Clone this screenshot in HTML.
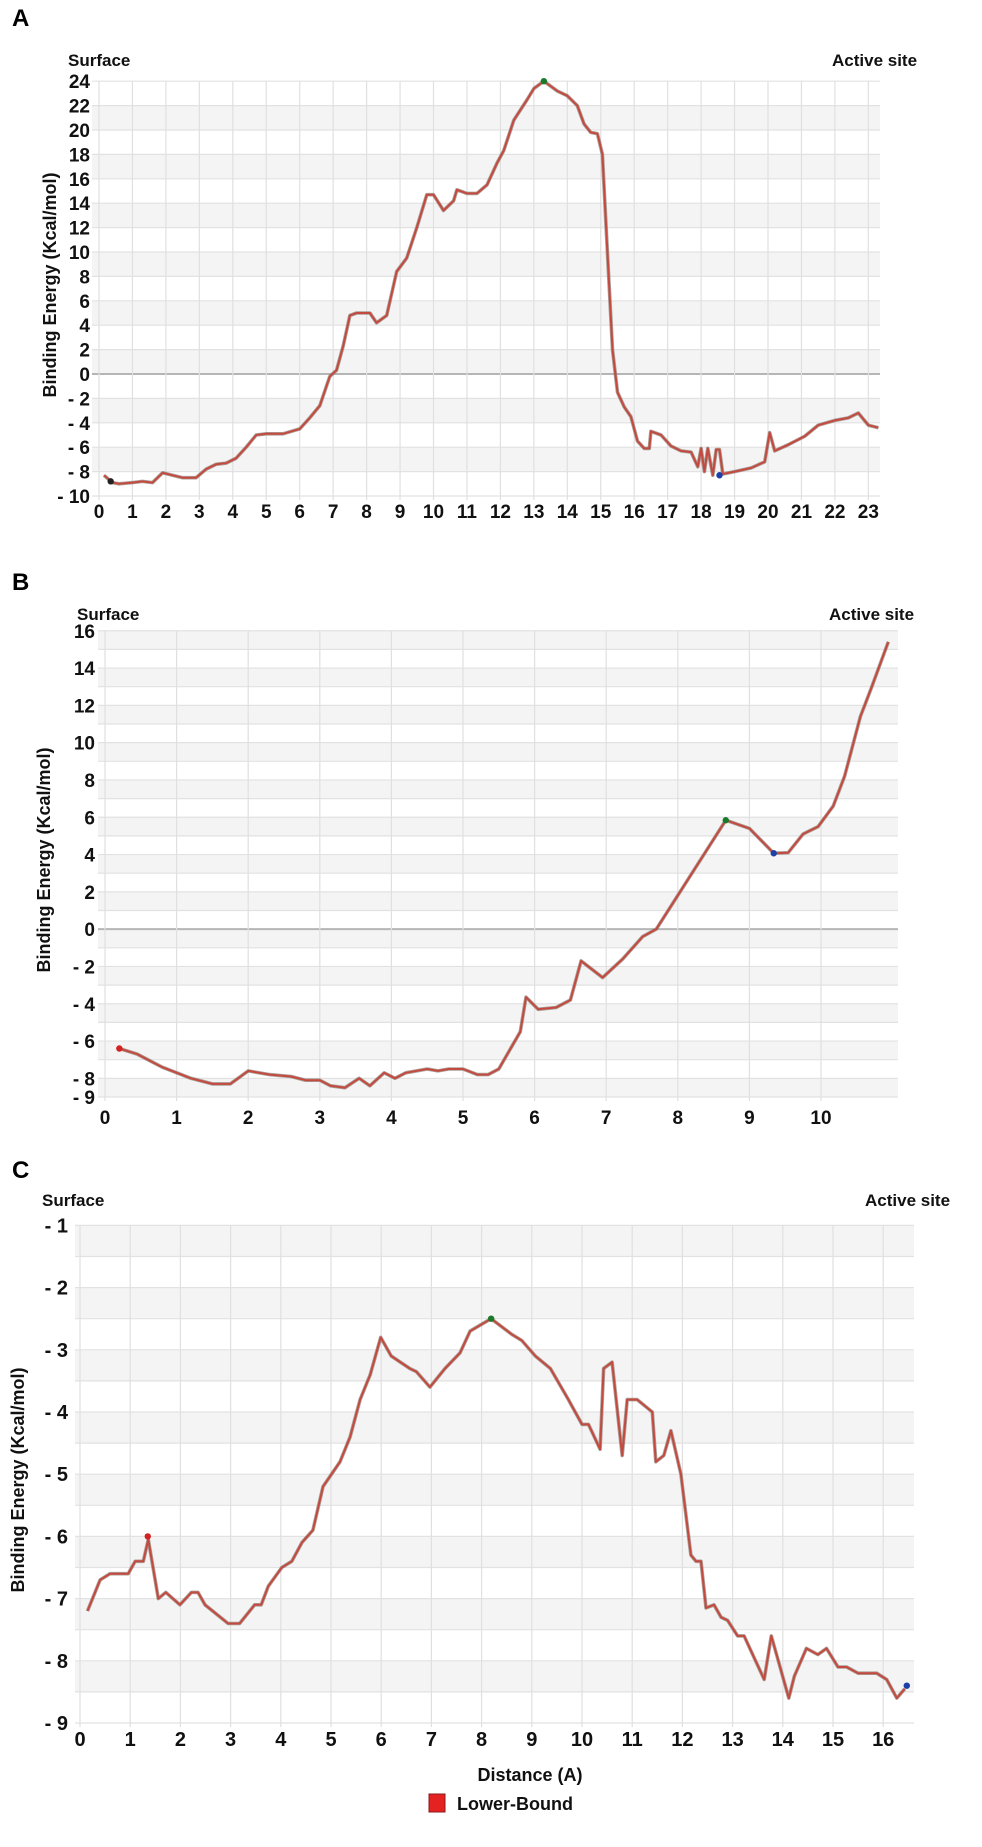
<!DOCTYPE html>
<html><head><meta charset="utf-8">
<style>
html,body{margin:0;padding:0;background:#fff;}
svg{display:block;font-family:"Liberation Sans",Arial,sans-serif;}
</style></head>
<body>
<svg id="fig" width="982" height="1847" viewBox="0 0 982 1847" xmlns="http://www.w3.org/2000/svg">
<rect width="982" height="1847" fill="#fff"/>
</svg>
<script>
// ---- Panel A data ----
const aX = [0.15,0.4,0.6,1,1.3,1.6,1.9,2.2,2.5,2.9,3.2,3.5,3.8,4.1,4.4,4.7,5,5.5,6,6.3,6.6,6.9,7.1,7.3,7.5,7.7,8.1,8.3,8.6,8.9,9.2,9.5,9.8,10,10.3,10.6,10.7,11,11.3,11.6,11.9,12.1,12.4,12.8,13.0,13.3,13.7,14.0,14.3,14.5,14.7,14.9,15.05,15.2,15.35,15.5,15.7,15.9,16.1,16.3,16.45,16.5,16.8,17.1,17.4,17.7,17.9,18.0,18.1,18.2,18.35,18.45,18.55,18.65,19,19.5,19.9,20.05,20.2,20.6,21.1,21.5,22.0,22.4,22.7,23.0,23.3];
const aY = [-8.3,-8.9,-9,-8.9,-8.8,-8.9,-8.1,-8.3,-8.5,-8.5,-7.8,-7.4,-7.3,-6.9,-6,-5,-4.9,-4.9,-4.5,-3.6,-2.6,-0.2,0.3,2.3,4.8,5,5,4.2,4.8,8.4,9.5,12,14.7,14.7,13.4,14.2,15.1,14.8,14.8,15.5,17.3,18.3,20.8,22.5,23.4,24,23.2,22.8,22,20.5,19.8,19.7,18,10,2,-1.5,-2.7,-3.5,-5.5,-6.1,-6.1,-4.7,-5,-5.9,-6.3,-6.4,-7.6,-6.1,-8.0,-6.1,-8.3,-6.2,-6.2,-8.2,-8.0,-7.7,-7.2,-4.8,-6.3,-5.8,-5.1,-4.2,-3.8,-3.6,-3.2,-4.2,-4.4];
const aYTicks = [24,22,20,18,16,14,12,10,8,6,4,2,0,-2,-4,-6,-8,-10];
const aXTicks = [0,1,2,3,4,5,6,7,8,9,10,11,12,13,14,15,16,17,18,19,20,21,22,23];
const aMarkers = [[0.35,-8.8,'#222'],[13.3,24,'#1a7a2a'],[18.55,-8.3,'#1f3fa8']];

// ---- Panel B data ----
const bX = [0.2,0.45,0.8,1.2,1.5,1.75,2.0,2.3,2.6,2.8,3.0,3.15,3.35,3.55,3.7,3.9,4.05,4.2,4.5,4.65,4.8,5.0,5.2,5.35,5.5,5.8,5.88,6.05,6.3,6.5,6.65,6.95,7.23,7.51,7.7,8.67,9.0,9.34,9.54,9.75,9.96,10.17,10.33,10.55,10.7,10.94];
const bY = [-6.4,-6.7,-7.4,-8.0,-8.3,-8.3,-7.6,-7.8,-7.9,-8.1,-8.1,-8.4,-8.5,-8.0,-8.4,-7.7,-8.0,-7.7,-7.5,-7.6,-7.5,-7.5,-7.8,-7.8,-7.5,-5.5,-3.65,-4.3,-4.2,-3.8,-1.7,-2.6,-1.6,-0.4,0,5.84,5.4,4.07,4.1,5.1,5.5,6.6,8.2,11.4,12.9,15.4];
const bYTicks = [16,14,12,10,8,6,4,2,0,-2,-4,-6,-8,-9];
const bXTicks = [0,1,2,3,4,5,6,7,8,9,10];
const bMarkers = [[0.2,-6.4,'#d42020'],[8.67,5.84,'#1a7a2a'],[9.34,4.07,'#1f3fa8']];

// ---- Panel C data ----
const cX = [0.15,0.4,0.6,0.96,1.1,1.26,1.36,1.56,1.71,1.99,2.22,2.35,2.49,2.95,3.18,3.48,3.61,3.75,4.02,4.22,4.42,4.64,4.84,5.18,5.38,5.58,5.78,5.99,6.2,6.57,6.7,6.97,7.27,7.57,7.77,8.19,8.6,8.8,9.07,9.37,9.73,10.0,10.13,10.36,10.43,10.6,10.8,10.9,11.1,11.4,11.47,11.63,11.77,11.97,12.17,12.27,12.37,12.47,12.63,12.77,12.9,13.1,13.23,13.4,13.63,13.77,14.12,14.23,14.47,14.7,14.87,15.1,15.27,15.5,15.87,16.07,16.27,16.43];
const cY = [-7.2,-6.7,-6.6,-6.6,-6.4,-6.4,-6.05,-7.0,-6.9,-7.1,-6.9,-6.9,-7.1,-7.4,-7.4,-7.1,-7.1,-6.8,-6.5,-6.4,-6.1,-5.9,-5.2,-4.8,-4.4,-3.8,-3.4,-2.8,-3.1,-3.3,-3.35,-3.6,-3.3,-3.05,-2.7,-2.5,-2.75,-2.85,-3.1,-3.3,-3.8,-4.2,-4.2,-4.6,-3.3,-3.2,-4.7,-3.8,-3.8,-4.0,-4.8,-4.7,-4.3,-5.0,-6.3,-6.4,-6.4,-7.15,-7.1,-7.3,-7.35,-7.6,-7.6,-7.9,-8.3,-7.6,-8.6,-8.25,-7.8,-7.9,-7.8,-8.1,-8.1,-8.2,-8.2,-8.3,-8.6,-8.45];
const cYTicks = [-1,-2,-3,-4,-5,-6,-7,-8,-9];
const cXTicks = [0,1,2,3,4,5,6,7,8,9,10,11,12,13,14,15,16];
const cMarkers = [[1.35,-6.0,'#d42020'],[8.19,-2.5,'#1a7a2a'],[16.47,-8.4,'#1f3fa8']];

const NS = 'http://www.w3.org/2000/svg';
const svg = document.getElementById('fig');
function mk(tag, attrs, parent) {
  const e = document.createElementNS(NS, tag);
  for (const k in attrs) e.setAttribute(k, attrs[k]);
  (parent || svg).appendChild(e);
  return e;
}
function txt(s, attrs, parent) { const t = mk('text', attrs, parent); t.textContent = s; return t; }
function fmt(v) { return v < 0 ? '- ' + Math.abs(v) : String(v); }

function panel(cfg) {
  const g = mk('g', {});
  
  
  const xs = v => cfg.x0 + (v - cfg.xmin) * cfg.xu;
  const ys = v => cfg.y0 - (v - cfg.ymin) * cfg.yu;
  const top = ys(cfg.ymax), bot = ys(cfg.ymin);
  // bands
  for (let v = cfg.ymin; v < cfg.ymax - 1e-9; v += cfg.band) {
    const idx = Math.round((v - cfg.bandRef) / cfg.band);
    if (((idx % 2) + 2) % 2 === 0) {
      const r = mk('rect', {x: cfg.gl, y: ys(v + cfg.band), width: cfg.gr - cfg.gl, height: cfg.band * cfg.yu, fill: '#f4f4f4'}, g);
      
      
    }
  }
  // horizontal lines
  for (let v = cfg.ymin; v <= cfg.ymax + 1e-9; v += cfg.band) {
    const l = mk('line', {x1: cfg.gl, x2: cfg.gr, y1: ys(v), y2: ys(v), stroke: Math.abs(v) < 1e-9 ? '#b5b5b5' : '#e2e2e2', 'stroke-width': Math.abs(v) < 1e-9 ? 2 : 1.2}, g);
    
    
  }
  // vertical lines
  for (const v of cfg.xTicks) {
    const l = mk('line', {x1: xs(v), x2: xs(v), y1: top, y2: bot + 4, stroke: '#e0e0e0', 'stroke-width': 1.2}, g);
    
    
  }
  // y tick labels
  for (const v of cfg.yTicks) {
    const t = txt(fmt(v), {x: cfg.ylx, y: ys(v) + 7, 'text-anchor': 'end', 'font-size': cfg.fs, 'font-weight': 'bold', fill: '#111'}, g);
    
    
  }
  for (const v of cfg.xTicks) {
    const t = txt(String(v), {x: xs(v), y: cfg.xly, 'text-anchor': 'middle', 'font-size': cfg.fs, 'font-weight': 'bold', fill: '#111'}, g);
    
    
  }
  // line
  const pts = cfg.X.map((x, i) => xs(x).toFixed(1) + ',' + ys(cfg.Y[i]).toFixed(1)).join(' ');
  const sh = mk('polyline', {points: pts, fill: 'none', stroke: '#8a7a70', 'stroke-width': 3.6, 'stroke-linejoin': 'round', opacity: 0.7}, g);
  
  
  const pl = mk('polyline', {points: pts, fill: 'none', stroke: '#c4493f', 'stroke-width': 2, 'stroke-linejoin': 'round'}, g);
  
  
  for (const m of cfg.M) {
    const c = mk('circle', {cx: xs(m[0]), cy: ys(m[1]), r: 3.2, fill: m[2]}, g);
    
    
  }
  const l1 = txt(cfg.letter, {x: 12, y: cfg.letterY, 'font-size': 24, 'font-weight': 'bold', fill: '#000'}, g);
  
  
  const s = txt('Surface', {x: cfg.surfX, y: cfg.surfY, 'font-size': 17, 'font-weight': 'bold', fill: '#111'}, g);
  
  
  const a = txt('Active site', {x: cfg.actX, y: cfg.surfY, 'font-size': 17, 'font-weight': 'bold', fill: '#111'}, g);
  
  
  const yt = txt('Binding Energy (Kcal/mol)', {x: 0, y: 0, 'text-anchor': 'middle', 'font-size': 18, 'font-weight': 'bold', fill: '#111', transform: 'translate(' + cfg.ytX + ',' + cfg.ytY + ') rotate(-90)'}, g);
  
  
}

panel({name: 'panel-a', letter: 'A', letterY: 26, X: aX, Y: aY, M: aMarkers, xTicks: aXTicks, yTicks: aYTicks,
  x0: 99, xmin: 0, xu: 33.45, y0: 496, ymin: -10, ymax: 24, yu: 12.2, band: 2, bandRef: -4,
  gl: 92, gr: 880, ylx: 90, xly: 518, fs: 19, surfX: 68, surfY: 66, actX: 832, ytX: 56, ytY: 285});

panel({name: 'panel-b', letter: 'B', letterY: 590, X: bX, Y: bY, M: bMarkers, xTicks: bXTicks, yTicks: bYTicks,
  x0: 105, xmin: 0, xu: 71.6, y0: 1097, ymin: -9, ymax: 16, yu: 18.65, band: 1, bandRef: 15,
  gl: 98, gr: 898, ylx: 95, xly: 1124, fs: 19, surfX: 77, surfY: 620, actX: 829, ytX: 50, ytY: 860});

panel({name: 'panel-c', letter: 'C', letterY: 1178, X: cX, Y: cY, M: cMarkers, xTicks: cXTicks, yTicks: cYTicks,
  x0: 80, xmin: 0, xu: 50.2, y0: 1723, ymin: -9, ymax: -1, yu: 62.2, band: 0.5, bandRef: -1.5,
  gl: 75, gr: 914, ylx: 68, xly: 1746, fs: 20, surfX: 42, surfY: 1206, actX: 865, ytX: 24, ytY: 1480});

const xt = txt('Distance (A)', {x: 530, y: 1781, 'text-anchor': 'middle', 'font-size': 18, 'font-weight': 'bold', fill: '#111'});


const lg = mk('rect', {x: 429, y: 1794, width: 16, height: 18, fill: '#e52222', stroke: '#8a1a1a', 'stroke-width': 1});


const lt = txt('Lower-Bound', {x: 457, y: 1810, 'font-size': 18, 'font-weight': 'bold', fill: '#111'});


</script>
</body></html>
